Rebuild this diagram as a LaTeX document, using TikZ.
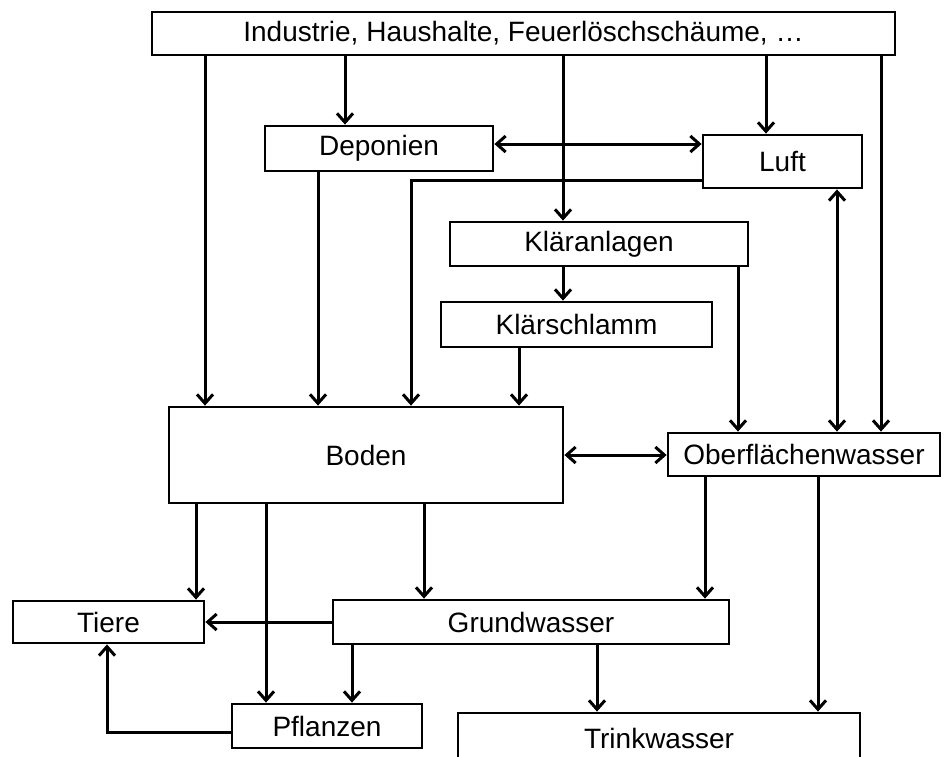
\documentclass[tikz,border=0pt]{standalone}
\usepackage{fontspec}
\setmainfont{Liberation Sans}
\usetikzlibrary{arrows.meta}

\begin{document}
\begin{tikzpicture}[x=1pt, y=1pt, yscale=1, xscale=1,
  box/.style={draw, line width=2.8pt, rectangle, inner sep=0pt, font=\fontsize{28}{31}\selectfont},
  arr/.style={line width=3pt, -{Straight Barb[length=9pt,width=16pt]}},
  darr/.style={line width=3pt, {Straight Barb[length=9pt,width=16pt]}-{Straight Barb[length=9pt,width=16pt]}}]
\useasboundingbox (0,0) rectangle (948,-756);
\node[box, minimum width=743, minimum height=43] (src) at (523.5,-33.5) {Industrie, Haushalte, Feuerlöschschäume, …};
\node[box, minimum width=228, minimum height=45] (dep) at (379,-148.5) {Deponien};
\node[box, minimum width=159, minimum height=53] (luft) at (782.5,-161.5) {Luft};
\node[box, minimum width=298, minimum height=44] (klaer) at (599,-244) {Kläranlagen};
\node[box, minimum width=271, minimum height=45] (schl) at (576.5,-324.5) {Klärschlamm};
\node[box, minimum width=394, minimum height=96] (boden) at (366,-455) {Boden};
\node[box, minimum width=272, minimum height=43] (ofw) at (804,-454.5) {Oberflächenwasser};
\node[box, minimum width=191, minimum height=42] (tiere) at (108.5,-622) {Tiere};
\node[box, minimum width=396, minimum height=44] (gw) at (531,-622) {Grundwasser};
\node[box, minimum width=190, minimum height=44] (pfl) at (327,-726) {Pflanzen};
\node[box, minimum width=402, minimum height=50] (trink) at (659,-738) {Trinkwasser};
\draw[arr] (205,0 |- src.south) -- (205,0 |- boden.north);
\draw[arr] (345,0 |- src.south) -- (345,0 |- dep.north);
\draw[arr] (563,0 |- src.south) -- (563,0 |- klaer.north);
\draw[arr] (766,0 |- src.south) -- (766,0 |- luft.north);
\draw[arr] (881,0 |- src.south) -- (881,0 |- ofw.north);
\draw[darr] (dep.east |- 0,-144) -- (luft.west |- 0,-144);
\draw[arr] (318,0 |- dep.south) -- (318,0 |- boden.north);
\draw[arr] (luft.west |- 0,-180) -| (411,0 |- boden.north);
\draw[arr] (563,0 |- klaer.south) -- (563,0 |- schl.north);
\draw[arr] (738,0 |- klaer.south) -- (738,0 |- ofw.north);
\draw[arr] (519,0 |- schl.south) -- (519,0 |- boden.north);
\draw[darr] (837,0 |- luft.south) -- (837,0 |- ofw.north);
\draw[darr] (boden.east |- 0,-455) -- (ofw.west |- 0,-455);
\draw[arr] (196,0 |- boden.south) -- (196,0 |- tiere.north);
\draw[arr] (266,0 |- boden.south) -- (266,0 |- pfl.north);
\draw[arr] (424,0 |- boden.south) -- (424,0 |- gw.north);
\draw[arr] (705,0 |- ofw.south) -- (705,0 |- gw.north);
\draw[arr] (818,0 |- ofw.south) -- (818,0 |- trink.north);
\draw[arr] (gw.west) -- (tiere.east);
\draw[arr] (352,0 |- gw.south) -- (352,0 |- pfl.north);
\draw[arr] (597,0 |- gw.south) -- (597,0 |- trink.north);
\draw[arr] (pfl.west |- 0,-732) -| (107,0 |- tiere.south);
\end{tikzpicture}
\end{document}
